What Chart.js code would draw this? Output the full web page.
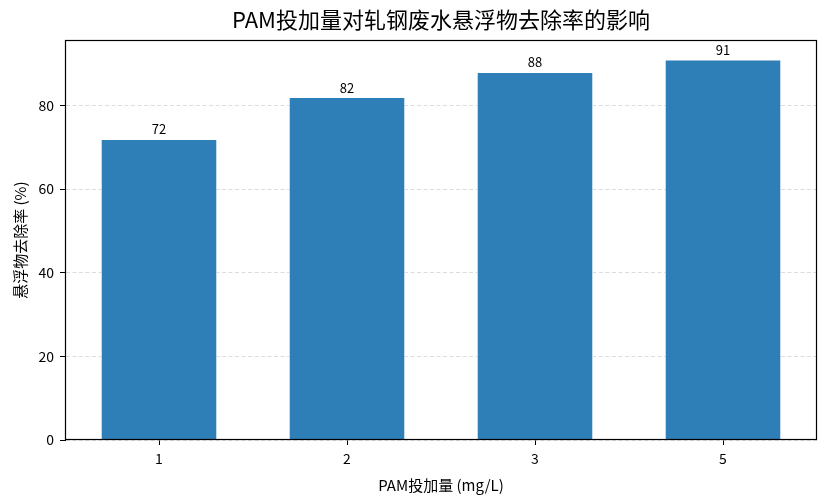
<!DOCTYPE html>
<html>
<head>
<meta charset="utf-8">
<script src="https://cdn.jsdelivr.net/npm/chart.js@4.4.0/dist/chart.umd.min.js"></script>
<style>
  html, body { margin: 0; padding: 0; background: #fff; }
  #wrap { width: 828px; height: 504px; }
</style>
</head>
<body>
<div id="wrap"><canvas id="grafica"></canvas></div>
<script>
const categorias = ["1", "2", "3", "5"];
const removal = [72, 82, 88, 91];
const yTicks = [0, 20, 40, 60, 80];

const fuente = "'Noto Sans CJK SC', 'Noto Sans', sans-serif";

// etiquetas encima de cada barra
const etiquetas = {
  id: "etiquetas",
  afterDatasetsDraw(chart) {
    const ctx = chart.ctx;
    const meta = chart.getDatasetMeta(0);
    ctx.save();
    ctx.font = "13px " + fuente;
    ctx.fillStyle = "#000";
    ctx.textAlign = "center";
    ctx.textBaseline = "bottom";
    meta.data.forEach((bar, i) => {
      ctx.fillText(String(removal[i]), bar.x, bar.y - 3);
    });
    ctx.restore();
  }
};

// marco completo como en matplotlib
const marco = {
  id: "marco",
  afterDraw(chart) {
    const a = chart.chartArea;
    const ctx = chart.ctx;
    ctx.save();
    ctx.strokeStyle = "#000";
    ctx.lineWidth = 1.2;
    ctx.strokeRect(Math.round(a.left) + 0.5, Math.round(a.top) + 0.5,
                   Math.round(a.right - a.left) - 1, Math.round(a.bottom - a.top) - 1);
    ctx.restore();
  }
};

new Chart(document.getElementById("grafica"), {
  type: "bar",
  data: {
    labels: categorias,
    datasets: [{
      data: removal,
      backgroundColor: "#2e7eb8",
      borderColor: "#ffffff",
      borderWidth: 1,
      barPercentage: 0.62,
      categoryPercentage: 1
    }]
  },
  options: {
    responsive: true,
    maintainAspectRatio: false,
    animation: false,
    layout: { padding: { left: 0, right: 11, top: 0, bottom: 0 } },
    plugins: {
      legend: { display: false },
      tooltip: { enabled: false },
      title: {
        display: true,
        fullSize: false,
        text: "PAM投加量对轧钢废水悬浮物去除率的影响",
        color: "#000",
        font: { family: fuente, size: 22, weight: "normal", lineHeight: 1.2 },
        padding: { top: 6, bottom: 8 }
      }
    },
    scales: {
      x: {
        afterFit(scale) { scale.height = 64; },
        grid: { drawOnChartArea: false, offset: false, tickColor: "#000", tickLength: 5 },
        border: { display: false },
        ticks: { color: "#000", font: { family: fuente, size: 14 }, padding: 5 },
        title: {
          display: true,
          text: "PAM投加量 (mg/L)",
          color: "#000",
          font: { family: fuente, size: 15, lineHeight: 1.2 },
          padding: { top: 4, bottom: 10 }
        }
      },
      y: {
        min: 0,
        max: 95.55,
        z: 1,
        afterFit(scale) { scale.width = 65; },
        afterBuildTicks(scale) { scale.ticks = yTicks.map(v => ({ value: v })); },
        grid: {
          color: "rgba(185,185,185,0.5)",
          lineWidth: 1,
          tickColor: "#000",
          tickLength: 5,
          tickBorderDash: []
        },
        border: { display: true, color: "#000", dash: [4, 2.5] },
        ticks: { color: "#000", font: { family: fuente, size: 14 }, padding: 6 },
        title: {
          display: true,
          text: "悬浮物去除率 (%)",
          color: "#000",
          font: { family: fuente, size: 15, lineHeight: 1.2 },
          padding: { top: 11, bottom: 4 }
        }
      }
    }
  },
  plugins: [etiquetas, marco]
});
</script>
</body>
</html>
